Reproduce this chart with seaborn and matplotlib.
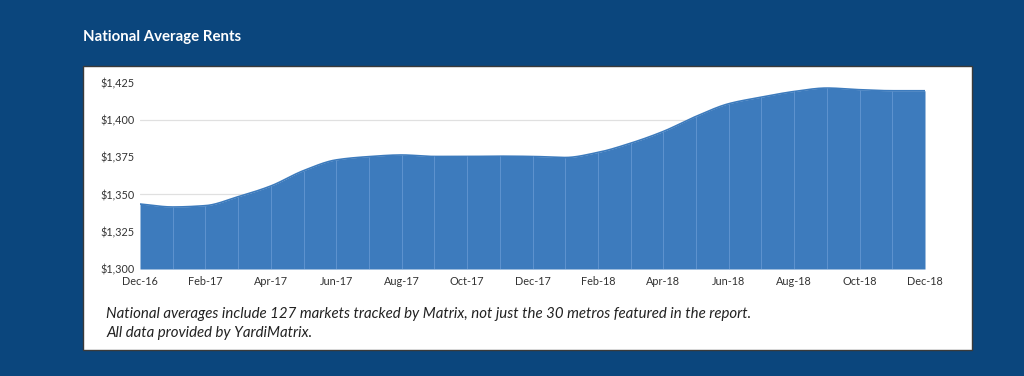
import numpy as np
import pandas as pd
import matplotlib.pyplot as plt
import seaborn as sns
from matplotlib.patches import Rectangle
from matplotlib.ticker import FuncFormatter

# === Data ===
months = ["Dec-16", "Jan-17", "Feb-17", "Mar-17", "Apr-17", "May-17", "Jun-17",
          "Jul-17", "Aug-17", "Sep-17", "Oct-17", "Nov-17", "Dec-17", "Jan-18",
          "Feb-18", "Mar-18", "Apr-18", "May-18", "Jun-18", "Jul-18", "Aug-18",
          "Sep-18", "Oct-18", "Nov-18", "Dec-18"]
rents = [1343.6, 1341.6, 1342.5, 1348.5, 1355.7, 1366.0, 1373.2,
         1375.4, 1376.5, 1375.5, 1375.5, 1375.7, 1375.5, 1374.8,
         1378.2, 1384.4, 1392.3, 1402.4, 1410.9, 1415.3, 1419.1,
         1421.4, 1420.3, 1419.6, 1419.6]
y_ticks = [1300, 1325, 1350, 1375, 1400, 1425]

title = "National Average Rents"
note_1 = "National averages include 127 markets tracked by Matrix, not just the 30 metros featured in the report."
note_2 = "All data provided by YardiMatrix."

df = pd.DataFrame({"month": months, "rent": rents})
df["idx"] = np.arange(len(df))

# smooth curve for drawing only (monotone cubic)
def pchip(x, y, xs):
    x = np.asarray(x, float)
    y = np.asarray(y, float)
    h = np.diff(x)
    d = np.diff(y) / h
    m = np.zeros_like(y)
    m[0], m[-1] = d[0], d[-1]
    for k in range(1, len(y) - 1):
        if d[k - 1] * d[k] <= 0:
            m[k] = 0
        else:
            w1 = 2 * h[k] + h[k - 1]
            w2 = h[k] + 2 * h[k - 1]
            m[k] = (w1 + w2) / (w1 / d[k - 1] + w2 / d[k])
    i = np.clip(np.searchsorted(x, xs) - 1, 0, len(x) - 2)
    t = (xs - x[i]) / h[i]
    h00 = 2 * t**3 - 3 * t**2 + 1
    h10 = t**3 - 2 * t**2 + t
    h01 = -2 * t**3 + 3 * t**2
    h11 = t**3 - t**2
    return h00 * y[i] + h10 * h[i] * m[i] + h01 * y[i + 1] + h11 * h[i] * m[i + 1]

xs = np.linspace(0, len(df) - 1, 600)
smooth = pd.DataFrame({"idx": xs, "rent": pchip(df["idx"], df["rent"], xs)})

# === Style ===
sns.set_theme(style="white")
plt.rcParams["font.family"] = ["Lato", "DejaVu Sans"]

bg = "#0b467d"
fill = "#3d7bbd"

fig = plt.figure(figsize=(10.24, 3.76), dpi=100)
fig.patch.set_facecolor(bg)

# white card behind the chart
fig.patches.append(Rectangle((83 / 1024, 1 - 350 / 376), (972 - 83) / 1024, (350 - 66) / 376,
                             transform=fig.transFigure, facecolor="white",
                             edgecolor="#3a3a3a", linewidth=1.0, zorder=-5))

ax = fig.add_axes([140 / 1024, 1 - 269 / 376, (925 - 140) / 1024, (269 - 82.7) / 376])
ax.set_zorder(2)
ax.set_facecolor("none")

for gy in [1350, 1400]:
    ax.axhline(gy, color="#e0e0e0", linewidth=0.9, zorder=0)

ax.fill_between(smooth["idx"], 1300, smooth["rent"], color=fill, linewidth=0, zorder=2)
sns.lineplot(data=smooth, x="idx", y="rent", ax=ax, color=fill, linewidth=1.2, zorder=3)
ax.vlines(df["idx"][1:-1], 1300, df["rent"][1:-1], color="#5f93cf", linewidth=0.7, zorder=3)

ax.set_xlim(0, len(df) - 1)
ax.set_ylim(1300, 1425)
ax.set_yticks(y_ticks)
ax.yaxis.set_major_formatter(FuncFormatter(lambda v, p: f"${v:,.0f}"))
ax.set_xticks(df["idx"][::2])
ax.set_xticklabels(df["month"][::2])
ax.tick_params(axis="both", length=0, labelsize=7.8, labelcolor="#333333")
ax.tick_params(axis="x", pad=5)
ax.tick_params(axis="y", pad=4)
ax.set_xlabel("")
ax.set_ylabel("")
for s in ax.spines.values():
    s.set_visible(False)

fig.text(83 / 1024, 1 - 37 / 376, title, color="white", fontsize=10.8, fontweight="bold",
         va="center", ha="left")
fig.text(106 / 1024, 1 - 314 / 376, note_1, color="#222222", fontsize=10.8, style="italic",
         va="center", ha="left")
fig.text(106 / 1024, 1 - 333 / 376, note_2, color="#222222", fontsize=10.8, style="italic",
         va="center", ha="left")

plt.savefig("out.png", dpi=100, facecolor=bg)
plt.close()
